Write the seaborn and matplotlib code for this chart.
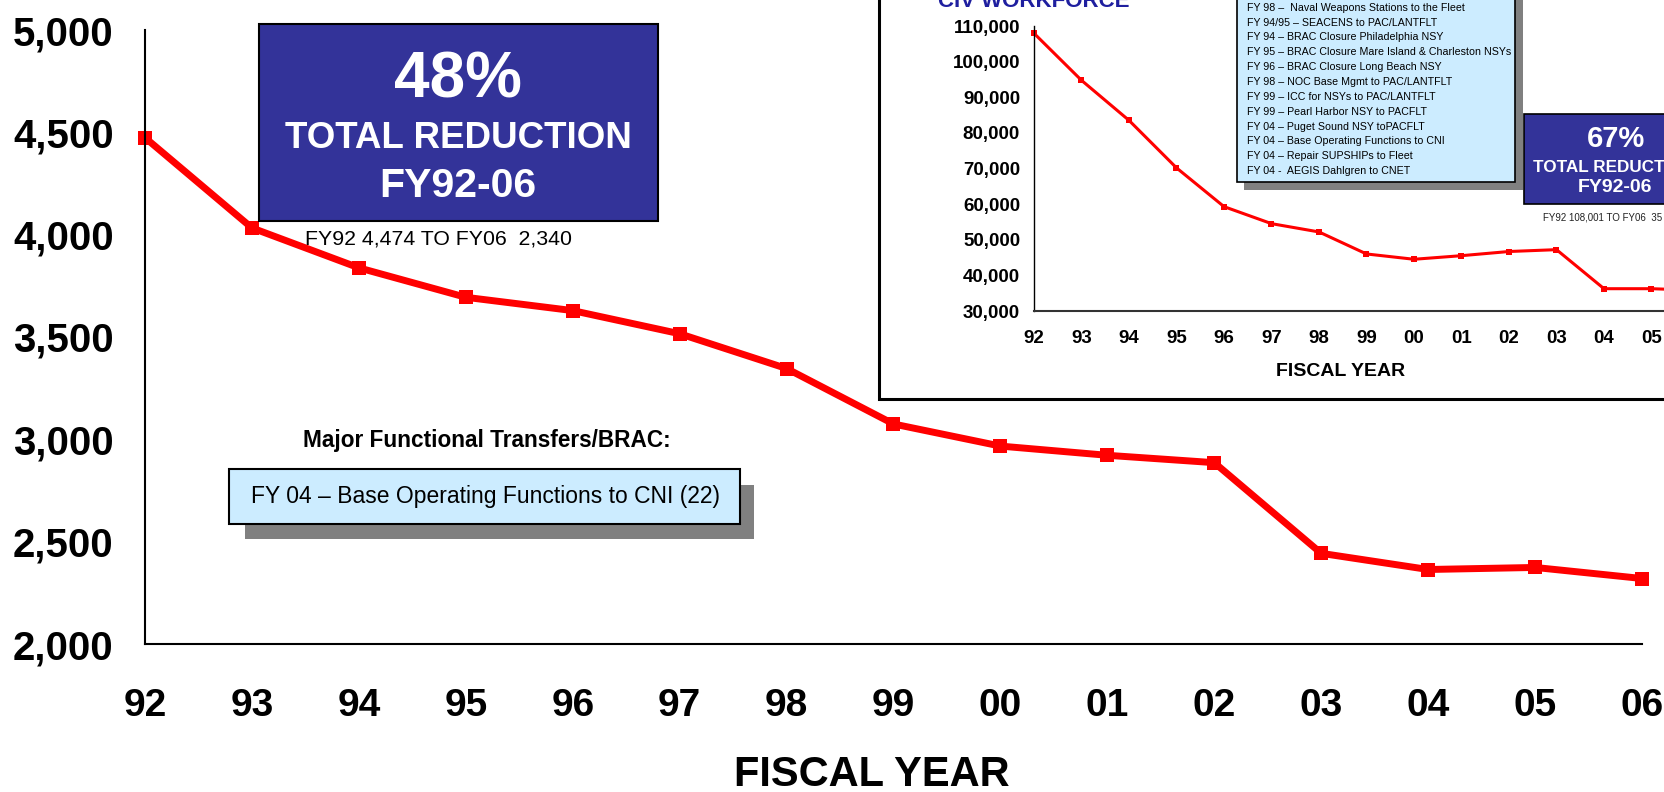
import matplotlib
matplotlib.use("Agg")
import matplotlib.pyplot as plt
import seaborn as sns
import pandas as pd
from matplotlib.patches import Rectangle

# ---------------- data ----------------
years = ['92', '93', '94', '95', '96', '97', '98', '99', '00', '01', '02', '03', '04', '05', '06']
main_values = [4474, 4033, 3838, 3694, 3629, 3516, 3346, 3075, 2967, 2922, 2886, 2443, 2364, 2374, 2320]
inset_values = [107950, 94750, 83510, 70180, 59300, 54520, 52190, 46010, 44520, 45530, 46700, 47220,
                36260, 36260, 35800]
main_yticks = [2000, 2500, 3000, 3500, 4000, 4500, 5000]
inset_yticks = [30000, 40000, 50000, 60000, 70000, 80000, 90000, 100000, 110000]
transfer_items = [
    "FY 98 \u2013  Naval Weapons Stations to the Fleet",
    "FY 94/95 \u2013 SEACENS to PAC/LANTFLT",
    "FY 94 \u2013 BRAC Closure Philadelphia NSY",
    "FY 95 \u2013 BRAC Closure Mare Island & Charleston NSYs",
    "FY 96 \u2013 BRAC Closure Long Beach NSY",
    "FY 98 \u2013 NOC Base Mgmt to PAC/LANTFLT",
    "FY 99 \u2013 ICC for NSYs to PAC/LANTFLT",
    "FY 99 \u2013 Pearl Harbor NSY to PACFLT",
    "FY 04 \u2013 Puget Sound NSY toPACFLT",
    "FY 04 \u2013 Base Operating Functions to CNI",
    "FY 04 \u2013 Repair SUPSHIPs to Fleet",
    "FY 04 -  AEGIS Dahlgren to CNET",
]

sns.set_theme(style="white")
plt.rcParams['font.family'] = ['Liberation Sans', 'DejaVu Sans']

W, H = 1665, 792
fig = plt.figure(figsize=(W / 100, H / 100), dpi=100)
fig.patch.set_facecolor('white')


def fx(x):
    return x / W


def fy(y):
    return 1 - y / H


def rect(x0, y0, x1, y1, **kw):
    r = Rectangle((fx(x0), fy(y1)), fx(x1) - fx(x0), fy(y0) - fy(y1),
                  transform=fig.transFigure, **kw)
    fig.patches.append(r)
    return r


RED = '#FF0000'
NAVY = '#333399'
LIGHT = '#CCECFF'

# ---------------- main chart ----------------
df = pd.DataFrame({'idx': range(len(years)), 'value': main_values})
ax = fig.add_axes([fx(145), fy(644), fx(1642) - fx(145), fy(30) - fy(644)])
sns.lineplot(data=df, x='idx', y='value', ax=ax, color=RED, linewidth=5,
             marker='s', markersize=9.5, markeredgewidth=0, clip_on=False)
ax.set_xlim(0, len(years) - 1)
ax.set_ylim(main_yticks[0], main_yticks[-1])
ax.set_xticks(range(len(years)))
ax.set_xticklabels(years)
ax.set_yticks(main_yticks)
ax.set_yticklabels([f"{v:,}" for v in main_yticks])
ax.set_xlabel('')
ax.set_ylabel('')
for s in ['top', 'right']:
    ax.spines[s].set_visible(False)
for s in ['left', 'bottom']:
    ax.spines[s].set_color('black')
    ax.spines[s].set_linewidth(1.5)
ax.tick_params(axis='both', direction='inout', length=17, width=1.5, color='black')
ax.tick_params(axis='y', pad=14, labelsize=29)
ax.tick_params(axis='x', pad=23.5, labelsize=28)
for lab in ax.get_xticklabels() + ax.get_yticklabels():
    lab.set_fontweight('bold')
    lab.set_color('black')
ax.patch.set_alpha(0)

fig.text(fx(872), fy(775), 'FISCAL YEAR', ha='center', va='center',
         fontsize=30, fontweight='bold', color='black')

# 48% box
rect(259, 24, 658, 221, facecolor=NAVY, edgecolor='black', linewidth=1.5, zorder=2)
fig.text(fx(458), fy(80), '48%', ha='center', va='center', fontsize=46,
         fontweight='bold', color='white', zorder=3)
fig.text(fx(458), fy(138), 'TOTAL REDUCTION', ha='center', va='center', fontsize=26.5,
         fontweight='bold', color='white', zorder=3)
fig.text(fx(458), fy(186), 'FY92-06', ha='center', va='center', fontsize=29.5,
         fontweight='bold', color='white', zorder=3)
fig.text(fx(305), fy(239), 'FY92 4,474 TO FY06  2,340', ha='left', va='center',
         fontsize=15.3, color='black', zorder=3)

# transfers annotation
fig.text(fx(487), fy(440), 'Major Functional Transfers/BRAC:', ha='center', va='center',
         fontsize=16.3, fontweight='bold', color='black', zorder=3)
rect(245, 485, 754, 539, facecolor='#808080', edgecolor='none', zorder=2)
rect(229, 469, 740, 524, facecolor=LIGHT, edgecolor='black', linewidth=1.5, zorder=2.5)
fig.text(fx(486), fy(497), 'FY 04 \u2013 Base Operating Functions to CNI (22)', ha='center',
         va='center', fontsize=16.5, color='black', zorder=3)

# ---------------- inset ----------------
rect(879, -20, 1700, 399, facecolor='white', edgecolor='black', linewidth=2.2, zorder=0.5)

idf = pd.DataFrame({'idx': range(len(years)), 'value': inset_values})
ax2 = fig.add_axes([fx(1034), fy(311), fx(1699) - fx(1034), fy(26) - fy(311)], zorder=1)
sns.lineplot(data=idf, x='idx', y='value', ax=ax2, color=RED, linewidth=2.2,
             marker='s', markersize=5, markeredgewidth=0, clip_on=False)
ax2.set_xlim(0, len(years) - 1)
ax2.set_ylim(inset_yticks[0], inset_yticks[-1])
ax2.set_xticks(range(len(years)))
ax2.set_xticklabels(years)
ax2.set_yticks(inset_yticks)
ax2.set_yticklabels([f"{v:,}" for v in inset_yticks])
ax2.set_xlabel('')
ax2.set_ylabel('')
for s in ['top', 'right']:
    ax2.spines[s].set_visible(False)
ax2.spines['left'].set_color('black')
ax2.spines['left'].set_linewidth(1.0)
ax2.spines['bottom'].set_color('#333333')
ax2.spines['bottom'].set_linewidth(1.5)
ax2.tick_params(axis='both', direction='inout', length=8, width=1.0, color='black')
ax2.tick_params(axis='y', pad=6, labelsize=13.5)
ax2.tick_params(axis='x', pad=10, labelsize=13.5)
for lab in ax2.get_xticklabels() + ax2.get_yticklabels():
    lab.set_fontweight('bold')
    lab.set_color('black')
ax2.patch.set_alpha(0)

fig.text(fx(1341), fy(371), 'FISCAL YEAR', ha='center', va='center',
         fontsize=14, fontweight='bold', color='black', zorder=3)
fig.text(fx(938), fy(7), 'CIV WORKFORCE', ha='left', va='baseline',
         fontsize=16, fontweight='bold', color='#1F1F9F', zorder=3)

# list box
rect(1244, -20, 1523, 190, facecolor='#808080', edgecolor='none', zorder=2)
rect(1237, -20, 1515, 182, facecolor=LIGHT, edgecolor='black', linewidth=1.2, zorder=2.5)
for i, item in enumerate(transfer_items):
    fig.text(fx(1247), fy(7.8 + i * 14.85), item, ha='left', va='center', fontsize=7.7,
             color='black', zorder=3)

# 67% box
rect(1524, 114, 1706, 204, facecolor=NAVY, edgecolor='black', linewidth=1.2, zorder=2)
fig.text(fx(1616), fy(139), '67%', ha='center', va='center', fontsize=21,
         fontweight='bold', color='white', zorder=3)
fig.text(fx(1533), fy(167), 'TOTAL REDUCTION', ha='left', va='center', fontsize=12.3,
         fontweight='bold', color='white', zorder=3)
fig.text(fx(1615), fy(188), 'FY92-06', ha='center', va='center', fontsize=14,
         fontweight='bold', color='white', zorder=3)
fig.text(fx(1543), fy(217), 'FY92 108,001 TO FY06  35', ha='left', va='center',
         fontsize=7, color='#222222', zorder=3)

fig.savefig('out.png', dpi=100, facecolor='white')
